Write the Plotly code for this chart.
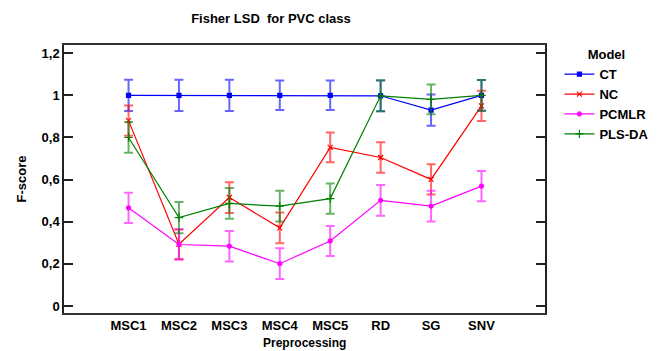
import plotly.graph_objects as go

categories = ["MSC1", "MSC2", "MSC3", "MSC4", "MSC5", "RD", "SG", "SNV"]

ct_mean = [1.0, 1.0, 1.0, 1.0, 1.0, 0.998, 0.93, 1.0]
ct_err = [0.074, 0.074, 0.074, 0.07, 0.07, 0.073, 0.074, 0.073]
nc_mean = [0.88, 0.293, 0.515, 0.371, 0.753, 0.705, 0.601, 0.95]
nc_err = [0.072, 0.07, 0.073, 0.073, 0.071, 0.072, 0.072, 0.072]
pcmlr_mean = [0.466, 0.292, 0.284, 0.201, 0.309, 0.502, 0.474, 0.569]
pcmlr_err = [0.072, 0.072, 0.072, 0.073, 0.071, 0.073, 0.073, 0.072]
plsda_mean = [0.80, 0.42, 0.487, 0.474, 0.510, 0.998, 0.981, 1.0]
plsda_err = [0.073, 0.074, 0.073, 0.073, 0.072, 0.074, 0.071, 0.073]

y_ticks = [0, 0.2, 0.4, 0.6, 0.8, 1.0, 1.2]

series = [
    ("CT", ct_mean, ct_err, "rgb(0,0,255)", "rgba(0,0,255,0.6)", "square", 4),
    ("NC", nc_mean, nc_err, "rgb(255,0,0)", "rgba(255,0,0,0.6)", "x-thin-open", 5),
    ("PCMLR", pcmlr_mean, pcmlr_err, "rgb(255,0,255)", "rgba(255,0,255,0.6)", "circle", 4),
    ("PLS-DA", plsda_mean, plsda_err, "rgb(0,128,0)", "rgba(0,128,0,0.6)", "cross-thin-open", 6),
]

fig = go.Figure()
for name, mean, err, col, ecol, sym, sz in series:
    fig.add_trace(go.Scatter(
        x=categories, y=mean, name="<b>%s</b>" % name, mode="lines+markers",
        line=dict(color=col, width=1.2),
        marker=dict(symbol=sym, size=sz, color=col, line=dict(color=col, width=1.2)),
        error_y=dict(type="data", array=err, visible=True, color=ecol,
                     thickness=2, width=4.5),
    ))

font_family = "Liberation Sans, Arial, sans-serif"

fig.update_layout(
    width=665, height=351,
    margin=dict(l=64, r=112, t=45, b=38),
    paper_bgcolor="white", plot_bgcolor="white",
    font=dict(family=font_family, size=13, color="black"),
    title=dict(text="<b>Fisher LSD  for PVC class</b>", x=0.4075, xref="container",
               xanchor="center", y=1 - 18 / 351, yref="container", yanchor="middle",
               font=dict(size=13, color="black")),
    showlegend=True,
    legend=dict(
        title=dict(text="<b>Model</b>", font=dict(size=13), side="top center"),
        x=1.03, xanchor="left", y=1.01, yanchor="top",
        font=dict(size=13), bgcolor="rgba(0,0,0,0)",
        itemsizing="trace", tracegroupgap=0, itemwidth=30,
    ),
    annotations=[dict(
        text="<b>Preprocessing</b>", x=0.5, xref="paper", xanchor="center",
        y=-(351 - 313) / 268, yref="paper", yanchor="bottom", borderpad=0,
        showarrow=False, font=dict(size=12, color="black"),
    )],
)

fig.update_xaxes(
    type="category", range=[-1.28, 8.26], automargin=False,
    showline=True, linecolor="#333", linewidth=1.5, mirror=True,
    ticks="", showgrid=False, zeroline=False, ticklabelstandoff=0,
    tickfont=dict(size=13, family=font_family),
    ticktext=["<b>%s</b>" % c for c in categories], tickvals=categories,
)
fig.update_yaxes(
    range=[-0.033, 1.239], automargin=False,
    tickvals=y_ticks,
    ticktext=["<b>%s</b>" % ("%g" % v).replace(".", ",") for v in y_ticks],
    showline=True, linecolor="#222", linewidth=1.5, mirror="allticks",
    ticks="inside", ticklen=9, tickwidth=1.5, tickcolor="#222",
    showgrid=False, zeroline=False,
    tickfont=dict(size=13, family=font_family),
    title=dict(text="<b>F-score</b>", standoff=12, font=dict(size=13)),
)

fig.write_html("out.html")
